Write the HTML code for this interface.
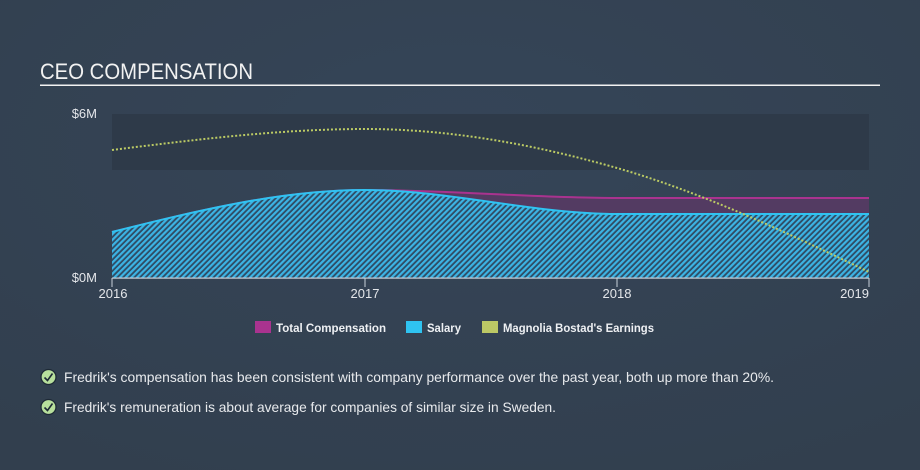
<!DOCTYPE html>
<html>
<head>
<meta charset="utf-8">
<style>
  html,body{margin:0;padding:0;}
  body{width:920px;height:470px;overflow:hidden;background:#344354;}
  svg{display:block;}
  text{font-family:"Liberation Sans", sans-serif;}
</style>
</head>
<body>
<svg width="920" height="470" viewBox="0 0 920 470" xmlns="http://www.w3.org/2000/svg">
  <defs>
    <radialGradient id="bg" cx="0.5" cy="0.3" r="0.8">
      <stop offset="0" stop-color="#354558"/>
      <stop offset="1" stop-color="#323f4e"/>
    </radialGradient>
    <pattern id="hatch" width="4" height="4" patternUnits="userSpaceOnUse" patternTransform="rotate(45)">
      <rect width="4" height="4" fill="#2f4a62"/>
      <rect x="0" y="0" width="2.2" height="4" fill="#3cb4e4"/>
    </pattern>
  </defs>
  <rect width="920" height="470" fill="url(#bg)"/>

  <!-- Title -->
  <text x="40" y="79" font-size="22" fill="#f2f2f2" textLength="213" lengthAdjust="spacingAndGlyphs">CEO COMPENSATION</text>
  <rect x="40" y="84.5" width="840" height="1.5" fill="#f2f2f2"/>

  <!-- dark band -->
  <rect x="112" y="114" width="757" height="56" fill="#2e3a49"/>

  <!-- y labels -->
  <text x="97" y="118" font-size="13" fill="#e4e6ea" text-anchor="end">$6M</text>
  <text x="97" y="282" font-size="13" fill="#e4e6ea" text-anchor="end">$0M</text>

  <!-- Total compensation area (purple) -->
  <path d="M112,232 C196.3,211 280.7,190 365,190 C449,190 533,198 617,198 L869,198 L869,214 L617,214 C533,214 449,190 365,190 C280.7,190 196.3,211 112,232 Z" fill="#553b63" opacity="0.95"/>
  <path d="M112,232 C196.3,211 280.7,190 365,190 C449,190 533,198 617,198 L869,198" fill="none" stroke="#a9338f" stroke-width="2"/>

  <!-- Salary area (hatched) -->
  <path d="M112,232 C196.3,211 280.7,190 365,190 C449,190 533,214 617,214 L869,214 L869,278 L112,278 Z" fill="url(#hatch)"/>
  <path d="M112,232 C196.3,211 280.7,190 365,190 C449,190 533,214 617,214 L869,214" fill="none" stroke="#2fc3f1" stroke-width="2"/>

  <!-- Earnings dotted -->
  <path d="M112,150 C196.3,139.5 280.7,129 365,129 C449,129 533,144.1 617,168 C701,191.9 785,231.9 869,272" fill="none" stroke="#bccb64" stroke-width="2" stroke-dasharray="2,2"/>

  <!-- x axis -->
  <rect x="112" y="277.5" width="757" height="1.2" fill="#c9d1da"/>
  <rect x="111.5" y="278" width="1" height="9" fill="#c9d1da"/>
  <rect x="364.5" y="278" width="1" height="9" fill="#c9d1da"/>
  <rect x="616.5" y="278" width="1" height="9" fill="#c9d1da"/>
  <rect x="868.5" y="278" width="1" height="9" fill="#c9d1da"/>
  <text x="113" y="298" font-size="13" fill="#e4e6ea" text-anchor="middle">2016</text>
  <text x="365" y="298" font-size="13" fill="#e4e6ea" text-anchor="middle">2017</text>
  <text x="617" y="298" font-size="13" fill="#e4e6ea" text-anchor="middle">2018</text>
  <text x="869" y="298" font-size="13" fill="#e4e6ea" text-anchor="end">2019</text>

  <!-- Legend -->
  <rect x="255" y="321" width="16" height="12" fill="#a9338f"/>
  <text x="276" y="332" font-size="12" font-weight="bold" fill="#eef0f3" textLength="110" lengthAdjust="spacingAndGlyphs">Total Compensation</text>
  <rect x="406" y="321" width="16" height="12" fill="#2fc3f1"/>
  <text x="427" y="332" font-size="12" font-weight="bold" fill="#eef0f3" textLength="34" lengthAdjust="spacingAndGlyphs">Salary</text>
  <rect x="482" y="321" width="16" height="12" fill="#bcc865"/>
  <text x="503" y="332" font-size="12" font-weight="bold" fill="#eef0f3" textLength="151" lengthAdjust="spacingAndGlyphs">Magnolia Bostad's Earnings</text>

  <!-- Bullets -->
  <circle cx="48.5" cy="377" r="7.5" fill="#b7df9c" stroke="#1e2a36" stroke-width="1.3"/>
  <path d="M44.5,377.5 L47.5,380.5 L52.5,373.5" fill="none" stroke="#1e2a36" stroke-width="1.6"/>
  <text x="64" y="382" font-size="14" fill="#e8eaed" textLength="710" lengthAdjust="spacingAndGlyphs">Fredrik's compensation has been consistent with company performance over the past year, both up more than 20%.</text>

  <circle cx="48.5" cy="407" r="7.5" fill="#b7df9c" stroke="#1e2a36" stroke-width="1.3"/>
  <path d="M44.5,407.5 L47.5,410.5 L52.5,403.5" fill="none" stroke="#1e2a36" stroke-width="1.6"/>
  <text x="64" y="412" font-size="14" fill="#e8eaed" textLength="492" lengthAdjust="spacingAndGlyphs">Fredrik's remuneration is about average for companies of similar size in Sweden.</text>
</svg>
</body>
</html>
